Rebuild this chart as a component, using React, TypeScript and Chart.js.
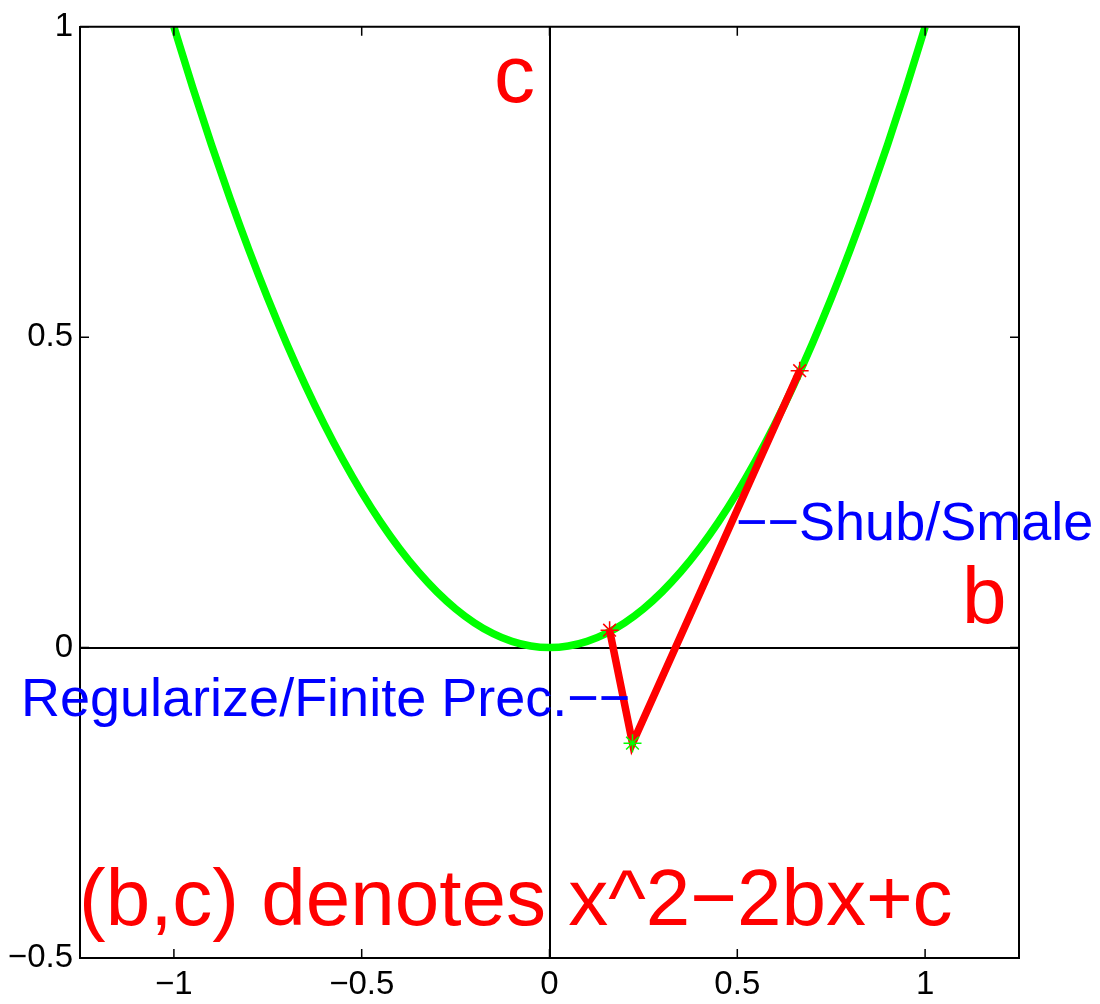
import React, { useEffect, useRef } from "react";
import { Chart, registerables } from "chart.js";

Chart.register(...registerables);

const FONT = "'Liberation Sans', Arial, Helvetica, sans-serif";

// Axis ticks
const xTicks = [-1, -0.5, 0, 0.5, 1];
const yTicks = [-0.5, 0, 0.5, 1];

// Green parabola samples
const curveX = [
  -1, -0.95, -0.9, -0.85, -0.8, -0.75, -0.7, -0.65, -0.6, -0.55, -0.5,
  -0.45, -0.4, -0.35, -0.3, -0.25, -0.2, -0.15, -0.1, -0.05, 0,
  0.05, 0.1, 0.15, 0.2, 0.25, 0.3, 0.35, 0.4, 0.45, 0.5,
  0.55, 0.6, 0.65, 0.7, 0.75, 0.8, 0.85, 0.9, 0.95, 1,
];
const curveY = [
  1, 0.9025, 0.81, 0.7225, 0.64, 0.5625, 0.49, 0.4225, 0.36, 0.3025, 0.25,
  0.2025, 0.16, 0.1225, 0.09, 0.0625, 0.04, 0.0225, 0.01, 0.0025, 0,
  0.0025, 0.01, 0.0225, 0.04, 0.0625, 0.09, 0.1225, 0.16, 0.2025, 0.25,
  0.3025, 0.36, 0.4225, 0.49, 0.5625, 0.64, 0.7225, 0.81, 0.9025, 1,
];

// Red path with star markers
const pathX = [0.16, 0.221, 0.666];
const pathY = [0.028, -0.154, 0.446];
const pathMarkerColors = ["#ff0000", "#00ff00", "#ff0000"];

// Annotations (text, anchor x px, baseline y px, size, color)
const noteTexts = [
  "c",
  "b",
  "\u2212\u2212Shub/Smale",
  "Regularize/Finite Prec.\u2212\u2212",
  "(b,c) denotes x^2\u22122bx+c",
];
const noteX = [494, 962, 736, 21, 79];
const noteY = [102, 623, 540, 716, 925];
const noteSize = [82, 80, 54, 54, 80];
const noteColor = ["#ff0000", "#ff0000", "#0000ff", "#0000ff", "#ff0000"];

const fmt = (v: number) => (v < 0 ? "\u2212" + String(Math.abs(v)) : String(v));

const framePlugin = {
  id: "frame",
  afterDatasetsDraw(chart: any) {
    const ctx = chart.ctx;
    ctx.save();
    ctx.textBaseline = "alphabetic";
    ctx.textAlign = "left";
    for (let i = 0; i < noteTexts.length; i++) {
      ctx.font = `${noteSize[i]}px ${FONT}`;
      ctx.fillStyle = noteColor[i];
      ctx.fillText(noteTexts[i], noteX[i], noteY[i]);
    }
    ctx.restore();
  },
  afterDraw(chart: any) {
    const ctx = chart.ctx;
    const { left, right, top, bottom } = chart.chartArea;
    const xs = chart.scales.x;
    const ys = chart.scales.y;
    ctx.save();
    ctx.strokeStyle = "#000";
    ctx.lineWidth = 2;
    ctx.beginPath();
    ctx.moveTo(left, top);
    ctx.lineTo(right, top);
    ctx.lineTo(right, bottom);
    ctx.stroke();
    const tl = 9;
    ctx.lineWidth = 1.5;
    ctx.beginPath();
    for (const v of xTicks) {
      const px = xs.getPixelForValue(v);
      ctx.moveTo(px, bottom);
      ctx.lineTo(px, bottom - tl);
      ctx.moveTo(px, top);
      ctx.lineTo(px, top + tl);
    }
    for (const v of yTicks) {
      const py = ys.getPixelForValue(v);
      ctx.moveTo(left, py);
      ctx.lineTo(left + tl, py);
      ctx.moveTo(right, py);
      ctx.lineTo(right - tl, py);
    }
    ctx.stroke();
    ctx.restore();
  },
};

export default function App() {
  const ref = useRef<HTMLCanvasElement | null>(null);

  useEffect(() => {
    if (!ref.current) return;
    const zeroGrid = (ctx: any) =>
      ctx.tick && ctx.tick.value === 0 ? "#000000" : "rgba(0,0,0,0)";
    const chart = new Chart(ref.current, {
      type: "scatter",
      data: {
        datasets: [
          {
            label: "path",
            data: pathX.map((x, i) => ({ x, y: pathY[i] })),
            showLine: true,
            borderColor: "#ff0000",
            borderWidth: 7.5,
            pointStyle: "star",
            pointRadius: 9,
            pointBorderWidth: 1.5,
            pointBorderColor: pathMarkerColors,
            pointBackgroundColor: pathMarkerColors,
            order: 0,
          },
          {
            label: "parabola",
            data: curveX.map((x, i) => ({ x, y: curveY[i] })),
            showLine: true,
            borderColor: "#00ff00",
            borderWidth: 7.5,
            pointRadius: 0,
            cubicInterpolationMode: "monotone",
            order: 1,
          },
        ],
      },
      options: {
        animation: false,
        responsive: false,
        devicePixelRatio: 1,
        layout: { padding: { top: 20, right: 81, left: 0, bottom: 0 } },
        plugins: {
          legend: { display: false },
          tooltip: { enabled: false },
        },
        scales: {
          x: {
            type: "linear",
            min: -1.25,
            max: 1.25,
            afterBuildTicks: (s: any) => {
              s.ticks = xTicks.map((v) => ({ value: v }));
            },
            afterFit: (s: any) => {
              s.height = 46;
            },
            grid: { drawTicks: false, color: zeroGrid, lineWidth: 2 },
            border: { display: true, color: "#000", width: 2 },
            ticks: {
              font: { family: FONT, size: 33 },
              color: "#000",
              padding: 7,
              maxRotation: 0,
              autoSkip: false,
              callback: (v: any) => fmt(Number(v)),
            },
          },
          y: {
            type: "linear",
            min: -0.5,
            max: 1,
            afterBuildTicks: (s: any) => {
              s.ticks = yTicks.map((v) => ({ value: v }));
            },
            afterFit: (s: any) => {
              s.width = 80;
            },
            grid: { drawTicks: false, color: zeroGrid, lineWidth: 2 },
            border: { display: true, color: "#000", width: 2 },
            ticks: {
              font: { family: FONT, size: 33 },
              color: "#000",
              padding: 7,
              autoSkip: false,
              callback: (v: any) => fmt(Number(v)),
            },
          },
        },
      },
      plugins: [framePlugin],
    } as any);
    return () => chart.destroy();
  }, []);

  return (
    <div style={{ position: "absolute", left: 0, top: 0, width: 1100, height: 1004, background: "#fff" }}>
      <canvas ref={ref} width={1100} height={1004} style={{ display: "block" }} />
    </div>
  );
}
